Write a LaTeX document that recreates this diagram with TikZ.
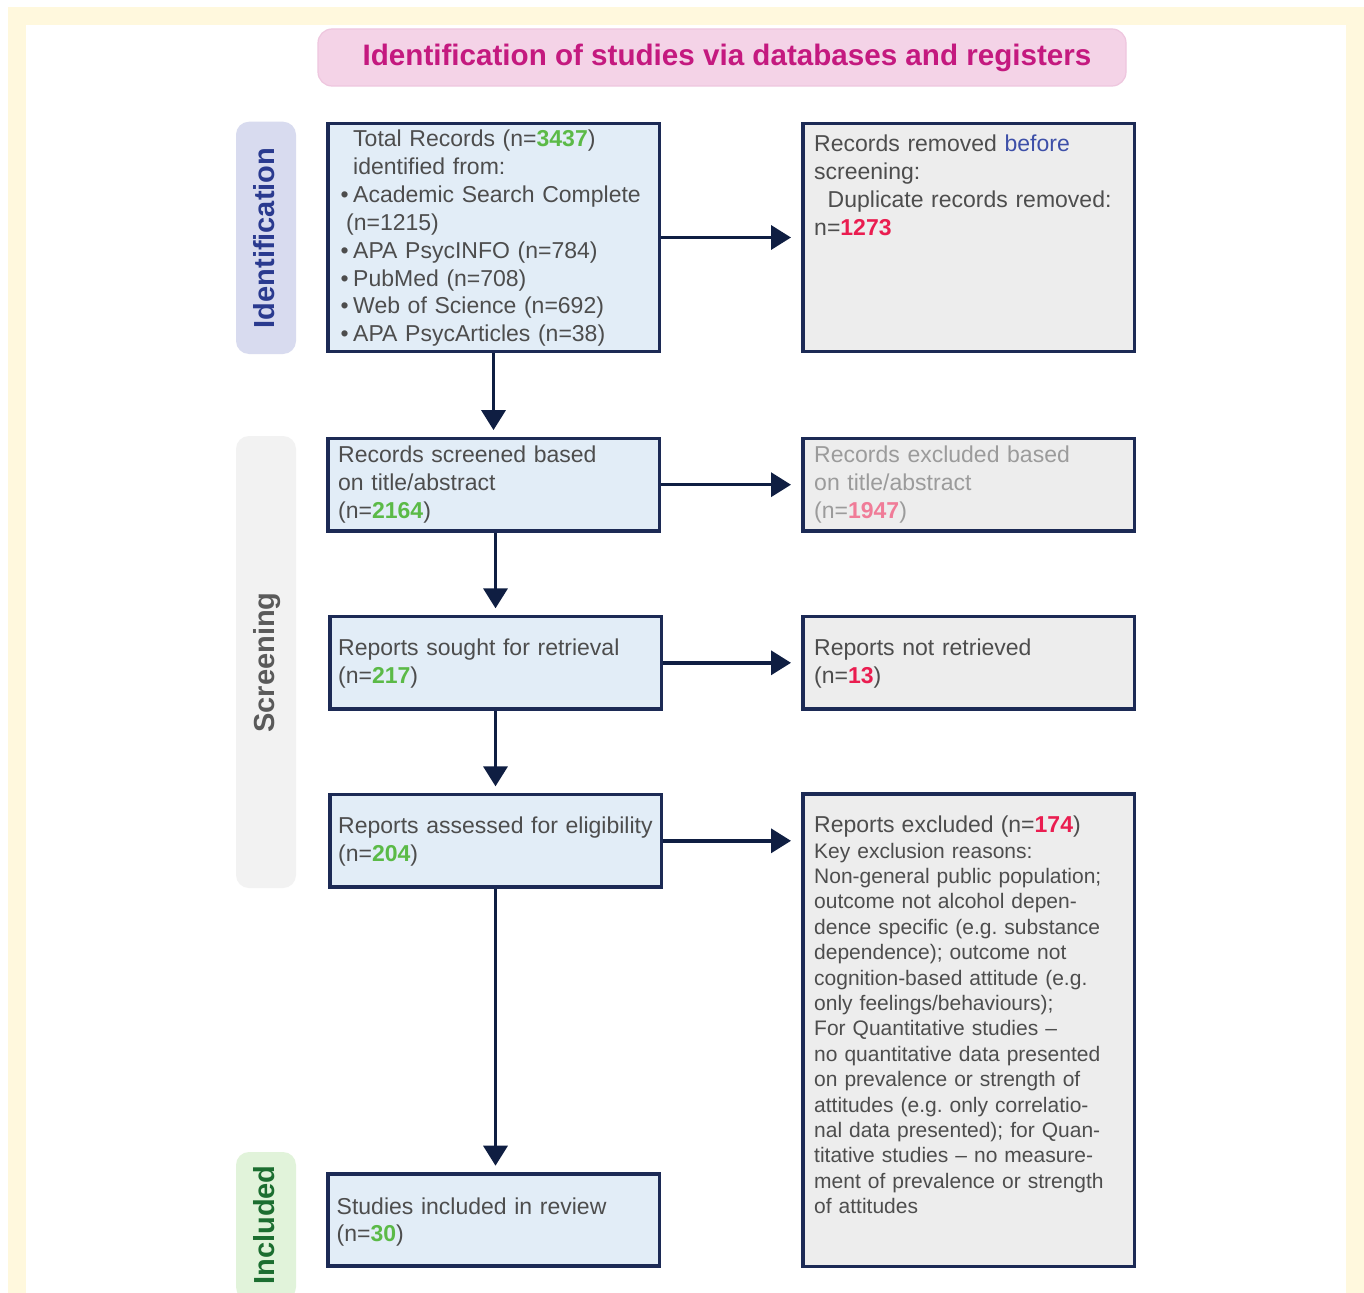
\documentclass[tikz,border=0pt]{standalone}
\usepackage{fontspec}
\setmainfont{Liberation Sans}
\usetikzlibrary{arrows.meta}
\frenchspacing
\definecolor{frameY}{HTML}{FFF8DD}
\definecolor{titleFill}{HTML}{F4D3E7}
\definecolor{titleLine}{HTML}{EEC6DE}
\definecolor{titleText}{HTML}{C4197F}
\definecolor{idFill}{HTML}{D8DBEF}
\definecolor{idText}{HTML}{2A3A8F}
\definecolor{scFill}{HTML}{F2F2F2}
\definecolor{scText}{HTML}{5A5A5A}
\definecolor{inFill}{HTML}{E1F3DA}
\definecolor{inText}{HTML}{1C6E30}
\definecolor{blueFill}{HTML}{E2EDF7}
\definecolor{grayFill}{HTML}{EDEDED}
\definecolor{borderC}{HTML}{1C2A55}
\definecolor{arrowC}{HTML}{0F1E42}
\definecolor{txt}{HTML}{4D4D4D}
\definecolor{numG}{HTML}{5BBA47}
\definecolor{numR}{HTML}{EA1D50}
\definecolor{fadeT}{HTML}{9B9B9B}
\definecolor{fadeR}{HTML}{F07C98}
\definecolor{beforeC}{HTML}{3D4FA8}
\newcommand{\gn}[1]{\textbf{\textcolor{numG}{#1}}}
\newcommand{\rd}[1]{\textbf{\textcolor{numR}{#1}}}
\newcommand{\bul}{\makebox[14pt][l]{\hspace{1.5pt}•}}
\tikzset{
 flowbox/.style={draw=borderC, line width=3.5pt, inner sep=0pt, minimum width=331.5pt},
 bluebox/.style={flowbox, fill=blueFill},
 graybox/.style={flowbox, fill=grayFill},
 boxtext/.style={anchor=base west, inner sep=0pt, text width=318pt, align=left, text=txt, font=\fontsize{23}{27.95}\selectfont},
 smalltext/.style={boxtext, font=\fontsize{21}{25.4}\selectfont},
 phase/.style={rounded corners=13pt, inner sep=0pt, minimum width=60pt},
 phaselabel/.style={anchor=base, rotate=90, inner sep=0pt, font=\fontsize{29}{34}\selectfont\bfseries},
 arr/.style={draw=arrowC, line width=3.5pt, -{Triangle[width=24pt,length=20pt]}},
}
\begin{document}
\begin{tikzpicture}[x=1pt,y=-1pt]
\useasboundingbox (0,0) rectangle (1364,1292);
\clip (0,0) rectangle (1364,1292);
% frame
\fill[frameY] (8,7) rectangle (1364,1300);
\fill[white] (26,25) rectangle (1346,1300);
% title
\node[rounded corners=14pt, fill=titleFill, draw=titleLine, line width=1.2pt, minimum width=808pt, minimum height=57pt, inner sep=0pt] (title) at (722,57.5) {};
\node[anchor=base, inner sep=0pt, font=\fontsize{29.6}{34}\selectfont\bfseries, text=titleText] (ttl) at (727,66) {Identification of studies via databases and registers};
% phase bands
\node[phase, fill=idFill, minimum height=232.3pt] (idband) at (266,237.85) {};
\node[phase, fill=scFill, minimum height=452pt] (scband) at (266,662) {};
\node[phase, fill=inFill, minimum height=148pt] (inband) at (266,1226) {};
\node[phaselabel, text=idText] (idl) at (274,238) {Identification};
\node[phaselabel, text=scText] (scl) at (274,662.5) {Screening};
\node[phaselabel, text=inText] (inl) at (274,1225) {Included};
% boxes
\node[bluebox, minimum height=228.1pt] (b1) at (493.5,237.5) {};
\node[bluebox, minimum height=92.5pt] (b2) at (493.5,484.7) {};
\node[bluebox, minimum height=92.2pt] (b3) at (495.5,662.8) {};
\node[bluebox, minimum height=92.2pt] (b4) at (495.5,840.8) {};
\node[bluebox, minimum height=91.9pt] (b5) at (493.5,1220) {};
\node[graybox, minimum height=228.1pt] (r1) at (968.5,237.5) {};
\node[graybox, minimum height=92.5pt] (r2) at (968.5,484.7) {};
\node[graybox, minimum height=92.2pt] (r3) at (968.5,662.8) {};
\node[graybox, minimum height=472.2pt] (r4) at (968.5,1030.2) {};
% texts
\node[boxtext] (t1) at (339,146.3) {\hspace*{14pt}Total Records (n=\gn{3437})\\
\hspace*{14pt}identified from:\\
\bul Academic Search Complete\\
\hspace*{7pt}(n=1215)\\
\bul APA PsycINFO (n=784)\\
\bul PubMed (n=708)\\
\bul Web of Science (n=692)\\
\bul APA PsycArticles (n=38)};
\node[boxtext] (t2) at (338,462.3) {Records screened based\\ on title/abstract\\ (n=\gn{2164})};
\node[boxtext] (t3) at (338,655.7) {Reports sought for retrieval\\ (n=\gn{217})};
\node[boxtext] (t4) at (338,833.7) {Reports assessed for eligibility\\ (n=\gn{204})};
\node[boxtext] (t5) at (336.5,1214) {Studies included in review\\ (n=\gn{30})};
\node[boxtext] (t6) at (814,151.7) {Records removed \textcolor{beforeC}{before}\\ screening:\\ \hspace*{13.5pt}Duplicate records removed:\\ n=\rd{1273}};
\node[boxtext, text=fadeT] (t7) at (814,462.3) {Records excluded based\\ on title/abstract\\ (n=\textbf{\textcolor{fadeR}{1947}})};
\node[boxtext] (t8) at (814,655.7) {Reports not retrieved\\ (n=\rd{13})};
\node[smalltext] (t9) at (814,832.7) {{\fontsize{23}{25.4}\selectfont Reports excluded (n=\rd{174})}\\
Key exclusion reasons:\\
Non-general public population;\\
outcome not alcohol depen-\\
dence specific (e.g. substance\\
dependence); outcome not\\
cognition-based attitude (e.g.\\
only feelings/behaviours);\\
For Quantitative studies –\\
no quantitative data presented\\
on prevalence or strength of\\
attitudes (e.g. only correlatio-\\
nal data presented); for Quan-\\
titative studies – no measure-\\
ment of prevalence or strength\\
of attitudes};
% arrows
\draw[arr, shorten >=10pt] (b1.east) -- (b1.east -| r1.west);
\draw[arr, shorten >=10pt] (b2.east) -- (b2.east -| r2.west);
\draw[arr, shorten >=10pt] (b3.east) -- (b3.east -| r3.west);
\draw[arr, shorten >=10pt] (b4.east) -- (b4.east -| r4.west);
\draw[arr, shorten >=6.6pt] (b1.south) -- (b2.north);
\draw[arr, shorten >=6.6pt] (b3.north |- b2.south) -- (b3.north);
\draw[arr, shorten >=6.6pt] (b3.south) -- (b4.north);
\draw[arr, shorten >=6.6pt] (b4.south) -- (b4.south |- b5.north);
\end{tikzpicture}
\end{document}
